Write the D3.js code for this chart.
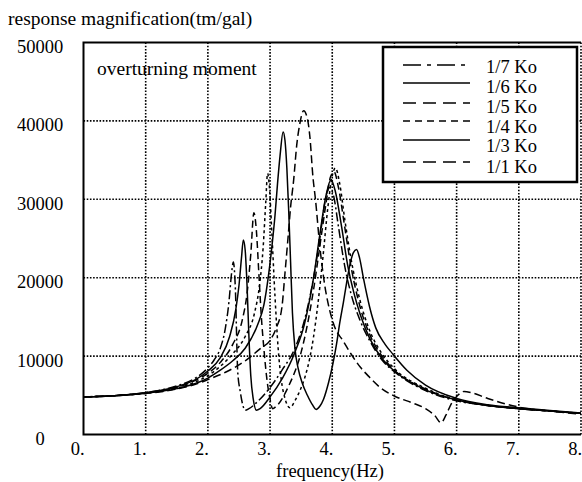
<!DOCTYPE html>
<html>
<head>
<meta charset="utf-8">
<script src="https://cdn.jsdelivr.net/npm/d3@7"></script>
<style>
    body { margin: 0; background: #fff; }
    text { font-family: "Liberation Serif", "Times New Roman", serif; }
</style>
</head>
<body>
<script>
// Data: [frequency (Hz), response (tm/gal)]
const ko7 = [[0,4800],[0.5,4950],[1.0,5350],[1.5,6200],[1.8,7200],[2.0,8500],[2.1,9500],[2.2,11000],[2.28,13500],[2.34,17000],[2.38,20500],[2.41,22000],[2.44,19000],[2.48,8000],[2.52,5500],[2.56,3800],[2.6,3100],[2.66,3300],[2.8,4200],[3.0,6000],[3.2,8300],[3.4,11000],[3.55,14500],[3.7,20000],[3.8,25000],[3.88,29500],[3.95,31500],[4.02,30500],[4.1,26500],[4.2,21500],[4.3,18000],[4.45,14500],[4.6,12000],[4.8,9500],[5.0,8000],[5.5,5600],[6.0,4300],[6.5,3700],[7.0,3300],[7.5,3000],[8.0,2700]]
const ko6 = [[0,4800],[0.5,4950],[1.0,5330],[1.5,6100],[1.8,7000],[2.0,8100],[2.2,9800],[2.35,12500],[2.45,16000],[2.5,19000],[2.54,22500],[2.57,24800],[2.6,23500],[2.63,19000],[2.66,12500],[2.69,7500],[2.73,4500],[2.78,3100],[2.84,3300],[3.0,4800],[3.2,7200],[3.4,10500],[3.55,14000],[3.7,20000],[3.8,25500],[3.9,30500],[3.98,32500],[4.05,31000],[4.15,26500],[4.25,21500],[4.35,18000],[4.45,15300],[4.6,12300],[4.8,9700],[5.0,8100],[5.5,5700],[6.0,4400],[6.5,3700],[7.0,3300],[7.5,3000],[8.0,2700]]
const ko5 = [[0,4800],[0.5,4950],[1.0,5300],[1.5,6000],[1.8,6900],[2.0,7800],[2.2,9200],[2.4,11500],[2.55,14500],[2.63,18000],[2.69,23000],[2.74,28300],[2.78,26000],[2.82,20500],[2.86,15000],[2.9,11000],[2.95,7000],[3.0,4500],[3.04,3300],[3.1,3600],[3.3,6200],[3.5,10500],[3.6,14000],[3.7,18500],[3.8,24000],[3.9,29500],[3.97,32800],[4.03,33500],[4.1,31500],[4.2,26500],[4.3,21500],[4.45,16200],[4.6,12800],[4.8,10000],[5.0,8200],[5.5,5800],[6.0,4400],[6.5,3700],[7.0,3300],[7.5,3000],[8.0,2700]]
const ko4 = [[0,4800],[0.5,4950],[1.0,5280],[1.5,5900],[1.8,6700],[2.0,7500],[2.2,8700],[2.4,10300],[2.6,12500],[2.75,15500],[2.83,19000],[2.89,24000],[2.93,29500],[2.96,33300],[2.99,31500],[3.03,25500],[3.08,17500],[3.13,11000],[3.18,7000],[3.24,4600],[3.32,3400],[3.4,4300],[3.48,5600],[3.56,7300],[3.64,9800],[3.7,12500],[3.77,16700],[3.85,22600],[3.93,29000],[4.0,33000],[4.05,34000],[4.12,32000],[4.2,27500],[4.3,22500],[4.45,17000],[4.6,13300],[4.8,10300],[5.0,8400],[5.5,5900],[6.0,4400],[6.5,3700],[7.0,3300],[7.5,3000],[8.0,2700]]
const ko3 = [[0,4800],[0.5,4950],[1.0,5250],[1.5,5850],[1.8,6500],[2.0,7200],[2.2,8200],[2.4,9400],[2.6,11000],[2.8,14000],[2.9,16500],[2.97,20000],[3.03,24000],[3.08,28000],[3.12,32000],[3.16,35500],[3.21,38600],[3.24,37500],[3.27,34000],[3.3,28500],[3.33,22000],[3.36,15500],[3.4,11000],[3.45,8500],[3.52,6500],[3.6,5000],[3.68,3800],[3.74,3200],[3.8,3600],[3.86,4500],[3.94,6600],[4.01,9000],[4.07,11600],[4.12,14200],[4.18,16900],[4.23,19300],[4.28,21500],[4.34,23200],[4.39,23600],[4.44,22500],[4.5,20000],[4.6,16300],[4.7,13600],[4.85,11500],[4.97,10300],[5.2,8200],[5.5,6300],[6.0,4600],[6.5,3800],[7.0,3400],[7.5,3050],[8.0,2750]]
const ko1 = [[0,4800],[0.5,4950],[1.0,5230],[1.5,5800],[1.8,6400],[2.0,7000],[2.3,8000],[2.6,9400],[2.85,11000],[3.0,12000],[3.1,13600],[3.19,16200],[3.24,20600],[3.29,25200],[3.33,29000],[3.38,32500],[3.43,37000],[3.48,39700],[3.54,41300],[3.6,40300],[3.64,38000],[3.69,32800],[3.73,30000],[3.8,24000],[3.88,19000],[3.96,15800],[4.05,13500],[4.17,12000],[4.3,10300],[4.45,8600],[4.6,7300],[4.77,6000],[5.0,4900],[5.3,4000],[5.5,3300],[5.65,2400],[5.75,1500],[5.83,2500],[5.92,4000],[6.02,5000],[6.12,5500],[6.25,5300],[6.5,4600],[7.0,3500],[7.5,3000],[8.0,2600]]

const seriesNames = ["1/7 Ko", "1/6 Ko", "1/5 Ko", "1/4 Ko", "1/3 Ko", "1/1 Ko"]
const seriesData = [ko7, ko6, ko5, ko4, ko3, ko1]
const xTicks = [0, 1, 2, 3, 4, 5, 6, 7, 8]
const yTicks = [0, 10000, 20000, 30000, 40000, 50000]

// Line styles per series
const dashes = ["9,3,2,3", null, "7,4", "3,3", null, "8,4"]
const legendDashes = ["18,6,4,6", null, "13,7", "7,5", null, "13,7"]

const width = 582
const height = 482
const plotLeft = 83.5, plotRight = 581, plotTop = 42.5, plotBottom = 434.5

let svg = d3.select("body").append("svg")
    .attr("width", width)
    .attr("height", height)

let xScale = d3.scaleLinear().domain([0, 8]).range([plotLeft, plotRight])
let yScale = d3.scaleLinear().domain([0, 50000]).range([plotBottom, plotTop])

// Dotted grid
svg.append("g")
    .selectAll("line").data(xTicks.slice(1)).enter().append("line")
    .attr("x1", d => xScale(d)).attr("x2", d => xScale(d))
    .attr("y1", plotTop).attr("y2", plotBottom)
    .attr("stroke", "#000").attr("stroke-width", 1.6)
    .attr("stroke-dasharray", "1.6,1.6")
svg.append("g")
    .selectAll("line").data(yTicks.slice(1, -1)).enter().append("line")
    .attr("x1", plotLeft).attr("x2", plotRight)
    .attr("y1", d => yScale(d)).attr("y2", d => yScale(d))
    .attr("stroke", "#000").attr("stroke-width", 1.6)
    .attr("stroke-dasharray", "1.6,1.6")

// Frame: left, bottom, top solid
svg.append("path")
    .attr("d", `M${plotRight},${plotTop}H${plotLeft}V${plotBottom}H${plotRight}`)
    .attr("fill", "none").attr("stroke", "#000").attr("stroke-width", 2)

// Axis labels via d3 axes
let xAxis = svg.append("g")
    .attr("transform", `translate(0, ${plotBottom})`)
    .call(d3.axisBottom(xScale).tickValues(xTicks).tickSize(0).tickFormat(d => d + "."))
xAxis.select(".domain").remove()
xAxis.selectAll("text")
    .attr("y", 20).attr("dy", 0).attr("x", 0.5)
    .attr("text-anchor", "end")
    .style("font-size", "18.5px").style("font-family", "Liberation Serif").attr("fill", "#000")

let yAxis = svg.append("g")
    .attr("transform", `translate(${plotLeft}, 0)`)
    .call(d3.axisLeft(yScale).tickValues(yTicks).tickSize(0).tickFormat(d3.format("d")))
yAxis.select(".domain").remove()
yAxis.selectAll("text")
    .attr("x", 40 - plotLeft).attr("dy", "0.38em").attr("y", 3)
    .attr("text-anchor", "middle")
    .style("font-size", "18.5px").style("font-family", "Liberation Serif").attr("fill", "#000")

// Curves
let line = d3.line()
    .x(d => xScale(d[0]))
    .y(d => yScale(d[1]))
    .curve(d3.curveMonotoneX)

seriesData.forEach((data, i) => {
    svg.append("path")
        .datum(data)
        .attr("d", line)
        .attr("fill", "none")
        .attr("stroke", "#000")
        .attr("stroke-width", 1.5)
        .attr("stroke-dasharray", dashes[i])
})

// Titles
svg.append("text")
    .attr("x", 8).attr("y", 25)
    .style("font-size", "19.5px")
    .text("response magnification(tm/gal)")
svg.append("text")
    .attr("x", 97).attr("y", 75)
    .style("font-size", "19.5px")
    .text("overturning moment")
svg.append("text")
    .attr("x", 330).attr("y", 477)
    .attr("text-anchor", "middle")
    .style("font-size", "18.5px")
    .text("frequency(Hz)")

// Legend
svg.append("rect")
    .attr("x", 383).attr("y", 47).attr("width", 194).attr("height", 135)
    .attr("fill", "#fff").attr("stroke", "#000").attr("stroke-width", 2.5)
const legendLineY = [65, 83, 103, 121, 140, 162]
const legendTextY = [73, 93, 113, 133, 152, 173]
seriesNames.forEach((name, i) => {
    svg.append("line")
        .attr("x1", 403).attr("x2", 470)
        .attr("y1", legendLineY[i]).attr("y2", legendLineY[i])
        .attr("stroke", "#000").attr("stroke-width", 1.6)
        .attr("stroke-dasharray", legendDashes[i])
    svg.append("text")
        .attr("x", 486).attr("y", legendTextY[i])
        .style("font-size", "18.5px")
        .text(name)
})
</script>
</body>
</html>
